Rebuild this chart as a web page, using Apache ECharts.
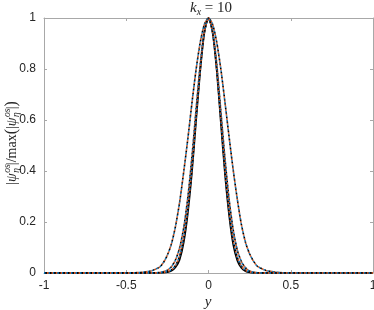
<!DOCTYPE html>
<html>
<head>
<meta charset="utf-8">
<script src="https://cdn.jsdelivr.net/npm/echarts@6/dist/echarts.min.js"></script>
<style>
  html, body { margin: 0; padding: 0; background: #fff; }
  #chart { width: 374px; height: 310px; }
</style>
</head>
<body>
<div id="chart"></div>
<script>
  // y positions (horizontal axis)
  const yPos = [-1, -0.6, -0.5, -0.45, -0.4, -0.35, -0.3, -0.275, -0.25, -0.225, -0.2, -0.175,
    -0.15, -0.125, -0.1, -0.075, -0.05, -0.025, 0, 0.025, 0.05, 0.075, 0.1, 0.125, 0.15,
    0.175, 0.2, 0.225, 0.25, 0.275, 0.3, 0.35, 0.4, 0.45, 0.5, 0.6, 1];

  // wide mode
  const wideMode = [0, 0, 0, 0.001, 0.003, 0.008, 0.022, 0.04, 0.07, 0.115, 0.185, 0.28,
    0.40, 0.53, 0.67, 0.80, 0.905, 0.975, 1, 0.975, 0.905, 0.80, 0.67, 0.535, 0.405,
    0.29, 0.19, 0.12, 0.075, 0.045, 0.025, 0.01, 0.004, 0.001, 0, 0, 0];

  // narrow modes
  const narrowA = [0, 0, 0, 0, 0, 0, 0.002, 0.005, 0.011, 0.025, 0.052, 0.10,
    0.18, 0.30, 0.46, 0.645, 0.82, 0.95, 1, 0.95, 0.82, 0.635, 0.45, 0.29, 0.17,
    0.09, 0.045, 0.02, 0.008, 0.003, 0.001, 0, 0, 0, 0, 0, 0];
  const narrowB = [0, 0, 0, 0, 0, 0, 0.001, 0.002, 0.005, 0.012, 0.03, 0.068,
    0.14, 0.255, 0.415, 0.615, 0.80, 0.945, 1, 0.945, 0.80, 0.605, 0.405, 0.245, 0.13,
    0.062, 0.027, 0.01, 0.004, 0.001, 0, 0, 0, 0, 0, 0, 0];
  const narrowC = [0, 0, 0, 0, 0, 0, 0, 0.001, 0.003, 0.008, 0.022, 0.052,
    0.12, 0.235, 0.395, 0.595, 0.79, 0.94, 1, 0.94, 0.79, 0.585, 0.385, 0.225, 0.11,
    0.048, 0.019, 0.007, 0.002, 0, 0, 0, 0, 0, 0, 0, 0];

  const xTicks = ['-1', '-0.5', '0', '0.5', '1'];
  const yTicks = ['0', '0.2', '0.4', '0.6', '0.8', '1'];

  const pairs = (vals) => yPos.map((p, i) => [p, vals[i]]);
  const dotColors = ['#0072BD', '#D95319', '#000000'];

  const series = [];
  series.push({
    type: 'line', data: pairs(narrowC), smooth: 0.25, showSymbol: false, silent: true,
    lineStyle: { color: '#000', width: 1.5 }
  });
  [wideMode, narrowA, narrowB].forEach((vals) => {
    dotColors.forEach((c, k) => {
      series.push({
        type: 'line', data: pairs(vals), smooth: 0.25, showSymbol: false, silent: true,
        lineStyle: { color: c, width: 1.6, type: [1.5, 3], dashOffset: k * 1.5 }
      });
    });
  });

  const axisCol = '#a8a8a8';
  const labelCol = '#262626';
  const sans = 'Liberation Sans, Arial, sans-serif';
  const serif = 'Liberation Serif, Times New Roman, serif';

  // lay out math-ish text pieces with measured widths
  const ctx = document.createElement('canvas').getContext('2d');
  function layout(pieces) {
    let x = 0;
    const out = [];
    pieces.forEach((p) => {
      const font = (p.italic ? 'italic ' : '') + p.size + 'px ' + serif;
      ctx.font = font;
      const w = ctx.measureText(p.t).width;
      out.push({
        type: 'text', x: x + (p.dx || 0), y: p.dy || 0, silent: true,
        style: { text: p.t, font: font, fill: labelCol, textVerticalAlign: 'middle' }
      });
      if (!p.noAdvance) x += w + (p.gap || 0);
    });
    return { children: out, width: x };
  }

  const title = layout([
    { t: 'k', italic: true, size: 15 },
    { t: 'x', italic: true, size: 10, dy: 4 },
    { t: ' = 10', size: 15 }
  ]);

  const yl = layout([
    { t: '|', size: 14 },
    { t: 'ψ', italic: true, size: 14, gap: 0.5 },
    { t: 'os', italic: true, size: 9.5, dy: -5, noAdvance: true },
    { t: 'η', italic: true, size: 9.5, dy: 4, gap: 3 },
    { t: '|/max', size: 14 },
    { t: '(', size: 16 },
    { t: '|', size: 14 },
    { t: 'ψ', italic: true, size: 14, gap: 0.5 },
    { t: 'os', italic: true, size: 9.5, dy: -5, noAdvance: true },
    { t: 'η', italic: true, size: 9.5, dy: 4, gap: 3 },
    { t: '|', size: 14 },
    { t: ')', size: 16 }
  ]);

  const chart = echarts.init(document.getElementById('chart'));

  const boxAxis = {
    axisLine: { show: true, onZero: false, lineStyle: { color: axisCol } },
    axisTick: { show: true, inside: true, length: 3, lineStyle: { color: axisCol } },
    splitLine: { show: false }
  };

  const option = {
    animation: false,
    grid: {
      left: 44, right: 1, top: 18, bottom: 37,
      containLabel: false, outerBoundsMode: 'none'
    },
    xAxis: [
      Object.assign({
        type: 'value', position: 'bottom', min: -1, max: 1, interval: 0.5,
        axisLabel: {
          color: labelCol, fontSize: 12, fontFamily: sans, margin: 7,
          formatter: (v) => xTicks[Math.round((v + 1) / 0.5)]
        }
      }, boxAxis),
      Object.assign({
        type: 'value', position: 'top', min: -1, max: 1, interval: 0.5,
        axisLabel: { show: false }
      }, boxAxis)
    ],
    yAxis: [
      Object.assign({
        type: 'value', position: 'left', min: 0, max: 1, interval: 0.2,
        axisLabel: {
          color: labelCol, fontSize: 12, fontFamily: sans, margin: 8,
          formatter: (v) => yTicks[Math.round(v / 0.2)]
        }
      }, boxAxis),
      Object.assign({
        type: 'value', position: 'right', min: 0, max: 1, interval: 0.2,
        axisLabel: { show: false }
      }, boxAxis)
    ],
    graphic: [
      { type: 'group', x: 211 - title.width / 2, y: 8, children: title.children },
      { type: 'group', x: 12, y: 143 + yl.width / 2, rotation: Math.PI / 2, children: yl.children },
      {
        type: 'text', x: 208, y: 302, silent: true,
        style: { text: 'y', font: 'italic 15px ' + serif, fill: labelCol, textAlign: 'center', textVerticalAlign: 'middle' }
      }
    ],
    series: series
  };

  chart.setOption(option);
</script>
</body>
</html>
